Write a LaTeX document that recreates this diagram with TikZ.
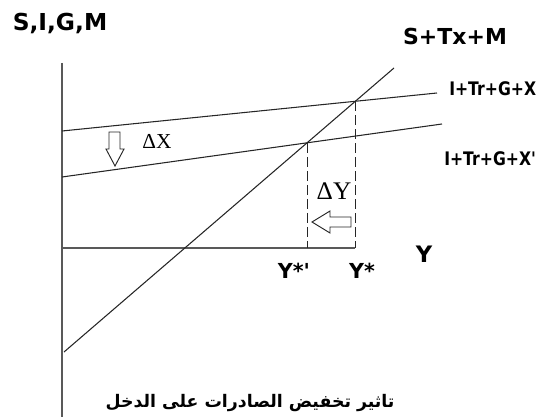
\documentclass[tikz,border=0pt]{standalone}
\usepackage{fontspec}
\usepackage{tikz}
\usetikzlibrary{positioning,calc}
\TeXXeTstate=1
\newfontfamily\labelfont{DejaVu Sans}
\newfontfamily\narrowfont[FakeStretch=0.84]{DejaVu Sans}
\newfontfamily\arabicfont[Script=Arabic]{DejaVu Sans}
\newfontfamily\deltafont{Liberation Serif}

\begin{document}
\begin{tikzpicture}[x=0.75pt,y=-0.75pt,
  axisline/.style={line width=1.5pt,draw=black!65},
  schedule/.style={line width=0.8pt,draw=black!85},
  guide/.style={line width=0.8pt,draw=black!85,dash pattern=on 7.5pt off 3pt},
  hollow/.style={line width=0.7pt,draw=black!85,fill=white},
  lbl/.style={inner sep=0pt,font=\labelfont\bfseries}]
\useasboundingbox (0,0) rectangle (542,417);

% axes
\coordinate (top) at (62,63);
\coordinate (bot) at (62,417);
\coordinate (orig) at (62,248);
\draw[axisline] (top) -- (bot);

% schedules
\coordinate (sA) at (64,352);
\coordinate (sB) at (394,68);
\coordinate (upA) at (62,131);
\coordinate (upB) at (437,93);
\coordinate (loA) at (62,177);
\coordinate (loB) at (442,124);
\coordinate (eqOld) at (intersection of sA--sB and upA--upB);
\coordinate (eqNew) at (intersection of sA--sB and loA--loB);
\coordinate (yOld) at (eqOld |- orig);
\coordinate (yNew) at (eqNew |- orig);
\draw[axisline] (orig) -- (yOld);
\draw[schedule] (sA) -- (sB);
\draw[schedule] (upA) -- (upB);
\draw[schedule] (loA) -- (loB);
\draw[guide] (eqOld) -- (yOld);
\draw[guide] (eqNew) -- (yNew);

% shift arrows
\draw[hollow] (109,132) -- (120,132) -- (120,149) -- (124,149) -- (115,166)
  -- (106,149) -- (109,149) -- cycle;
\draw[hollow] (351,217) -- (351,227) -- (330,227) -- (330,233) -- (312,222)
  -- (330,211) -- (330,217) -- cycle;

% labels
\node[lbl,font=\labelfont\bfseries\fontsize{17.5}{20}\selectfont,anchor=base] (axname) at (60,31) {S,I,G,M};
\node[lbl,font=\labelfont\bfseries\fontsize{16.5}{20}\selectfont,anchor=base] (sname) at (455,45) {S+Tx+M};
\node[lbl,font=\narrowfont\bfseries\fontsize{14}{18}\selectfont,anchor=base west] (upname) at (449,96) {I+Tr+G+X};
\node[lbl,font=\narrowfont\bfseries\fontsize{14}{18}\selectfont,anchor=base west] (loname) at (444,166) {I+Tr+G+X'};
\node[inner sep=0pt,font=\deltafont\fontsize{16}{18}\selectfont,anchor=base] (dx) at (157,149) {ΔX};
\node[inner sep=0pt,font=\deltafont\fontsize{19}{22}\selectfont,anchor=base] (dy) at (334,199) {ΔY};
\node[lbl,font=\labelfont\bfseries\fontsize{15.5}{18}\selectfont,anchor=base] (ynew) at (294,278) {Y*'};
\node[lbl,font=\labelfont\bfseries\fontsize{15.5}{18}\selectfont,anchor=base] (yold) at (362,278) {Y*};
\node[lbl,font=\labelfont\bfseries\fontsize{17}{20}\selectfont,anchor=base] (yname) at (424,262) {Y};
\node[inner sep=0pt,font=\arabicfont\bfseries\fontsize{13}{16}\selectfont,anchor=base] (title) at (250,407)
  {\beginR تاثير تخفيض الصادرات على الدخل\endR};
\end{tikzpicture}
\end{document}
